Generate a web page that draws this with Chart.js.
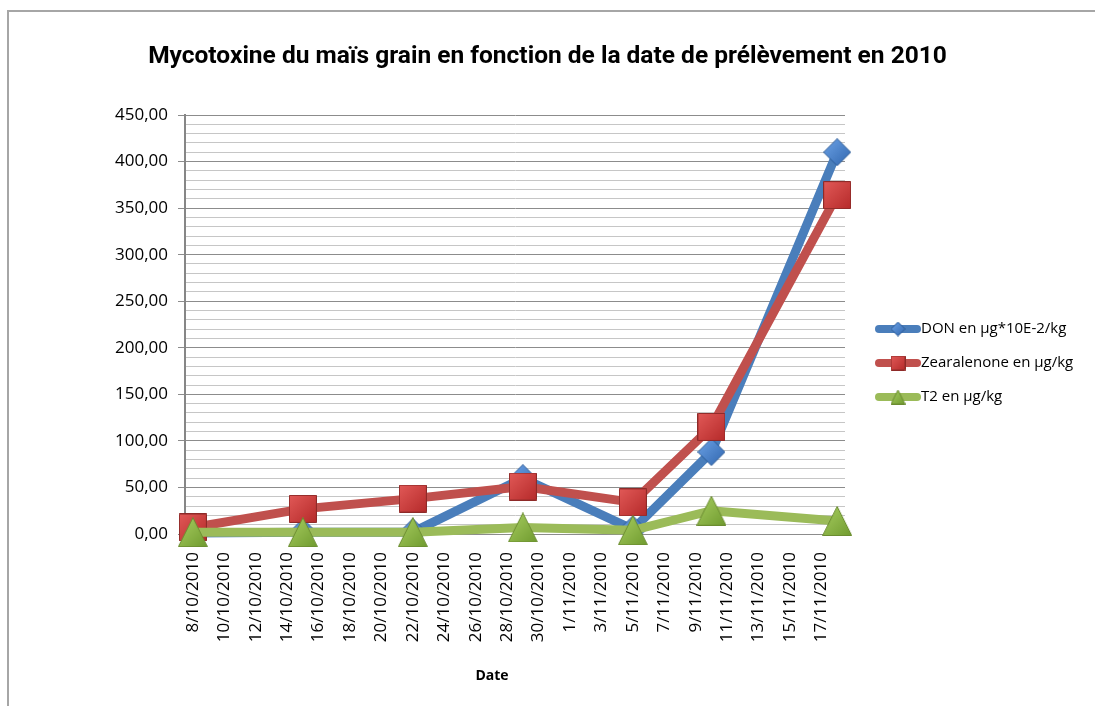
<!DOCTYPE html>
<html>
<head>
<meta charset="utf-8">
<style>
    body {
        margin: 0;
        background: #fff;
    }
    #wrap {
        position: relative;
        width: 1095px;
        height: 706px;
        overflow: hidden;
    }
    #frame {
        position: absolute;
        left: 7px;
        top: 10px;
        width: 1200px;
        height: 800px;
        border: 2px solid #a6a6a6;
    }
    canvas {
        position: absolute;
        left: 0;
        top: 0;
    }
</style>
</head>
<body>
<div id="wrap">
    <div id="frame"></div>
    <canvas id="chart" width="1095" height="706"></canvas>
</div>

<script src="https://cdn.jsdelivr.net/npm/chart.js@4"></script>
<script>
    // sampling dates and measured values
    const dates = ['8/10/2010', '15/10/2010', '22/10/2010', '29/10/2010', '5/11/2010', '10/11/2010', '18/11/2010'];
    const don = [1, 2, 2, 60, 5, 88, 410];
    const zearalenone = [7, 27, 38, 51, 34, 115, 364];
    const t2 = [2, 2, 2, 7, 4, 25, 14];

    const xTickLabels = ['8/10/2010', '10/10/2010', '12/10/2010', '14/10/2010', '16/10/2010', '18/10/2010',
        '20/10/2010', '22/10/2010', '24/10/2010', '26/10/2010', '28/10/2010', '30/10/2010', '1/11/2010',
        '3/11/2010', '5/11/2010', '7/11/2010', '9/11/2010', '11/11/2010', '13/11/2010', '15/11/2010', '17/11/2010'];

    const seriesNames = ['DON en µg*10E-2/kg', 'Zearalenone en µg/kg', 'T2 en µg/kg'];

    // date string -> days since first sample
    const toDay = (s) => {
        const p = s.split('/').map(Number);
        return Math.round((Date.UTC(p[2], p[1] - 1, p[0]) - Date.UTC(2010, 9, 8)) / 86400000);
    };
    const dayToLabel = (d) => {
        const dt = new Date(Date.UTC(2010, 9, 8) + d * 86400000);
        return dt.getUTCDate() + '/' + (dt.getUTCMonth() + 1) + '/' + dt.getUTCFullYear();
    };

    const days = dates.map(toDay);
    const lastDay = days[days.length - 1];
    const pts = (vals) => vals.map((v, i) => ({ x: days[i], y: v }));

    // Excel-like bevelled markers, drawn once into small canvases
    const makeMarker = (shape, size, light, dark, edge) => {
        const cv = document.createElement('canvas');
        cv.width = size;
        cv.height = size;
        const g = cv.getContext('2d');
        const grad = g.createLinearGradient(0, 0, size, size);
        grad.addColorStop(0, light);
        grad.addColorStop(1, dark);
        const m = size / 2;
        g.beginPath();
        if (shape === 'diamond') {
            g.moveTo(m, 0.5); g.lineTo(size - 0.5, m); g.lineTo(m, size - 0.5); g.lineTo(0.5, m);
        } else if (shape === 'square') {
            g.rect(0.5, 0.5, size - 1, size - 1);
        } else {
            g.moveTo(m, 0.5); g.lineTo(size - 0.5, size - 0.5); g.lineTo(0.5, size - 0.5);
        }
        g.closePath();
        g.fillStyle = grad;
        g.fill();
        g.strokeStyle = edge;
        g.lineWidth = 1;
        g.stroke();
        return cv;
    };

    const styles = [
        { line: '#4a7ebb', shape: 'diamond', light: '#6ea4e8', dark: '#2f65ad', edge: '#2b5a96' },
        { line: '#c0504d', shape: 'square', light: '#e25a58', dark: '#b52a2a', edge: '#8e2a28' },
        { line: '#9bbb59', shape: 'triangle', light: '#a9cf62', dark: '#6f9a2e', edge: '#6b8c30' }
    ];
    const markerSizes = [28, 28, 30];
    styles.forEach((st, i) => {
        st.big = makeMarker(st.shape, markerSizes[i], st.light, st.dark, st.edge);
        st.small = makeMarker(st.shape, 15, st.light, st.dark, st.edge);
    });

    const makeDataset = (label, vals, st, order) => ({
        label: label,
        data: pts(vals),
        borderColor: st.line,
        borderWidth: 9,
        pointStyle: st.big,
        pointRadius: 14,
        pointHoverRadius: 14,
        tension: 0,
        clip: false,
        order: order
    });

    // hand-made legend on the right (line sample + marker) and x axis title
    const sideLegend = {
        id: 'sideLegend',
        afterDraw(chart) {
            const ctx = chart.ctx;
            const ys = [329, 363, 397];
            ctx.save();
            styles.forEach((st, i) => {
                const y = ys[i];
                ctx.strokeStyle = st.line;
                ctx.lineWidth = 8;
                ctx.lineCap = 'round';
                ctx.beginPath();
                ctx.moveTo(879, y);
                ctx.lineTo(917, y);
                ctx.stroke();
                ctx.drawImage(st.small, 898 - 7.5, y - 7.5);
                ctx.fillStyle = '#000';
                ctx.font = '15px "Open Sans"';
                ctx.textBaseline = 'middle';
                ctx.textAlign = 'left';
                ctx.fillText(seriesNames[i], 921, y);
            });
            ctx.font = 'bold 14px "Open Sans"';
            ctx.textAlign = 'center';
            ctx.fillText('Date', 492, 676);
            ctx.restore();
        }
    };

    const ctx = document.getElementById('chart').getContext('2d');
    const chart = new Chart(ctx, {
        type: 'line',
        data: {
            datasets: [
                makeDataset(seriesNames[0], don, styles[0], 3),
                makeDataset(seriesNames[1], zearalenone, styles[1], 2),
                makeDataset(seriesNames[2], t2, styles[2], 1)
            ]
        },
        options: {
            responsive: false,
            animation: false,
            plugins: {
                legend: { display: false },
                tooltip: { enabled: false },
                title: {
                    display: true,
                    text: 'Mycotoxine du maïs grain en fonction de la date de prélèvement en 2010',
                    color: '#000',
                    font: { family: 'Roboto', weight: 'bold', size: 24.5 },
                    padding: { top: 42, bottom: 43.6 }
                }
            },
            scales: {
                x: {
                    type: 'linear',
                    min: -0.5,
                    max: lastDay + 0.5,
                    afterBuildTicks: (scale) => {
                        scale.ticks = xTickLabels.map((s) => ({ value: toDay(s) }));
                    },
                    afterFit: (scale) => { scale.height = 172; },
                    grid: { display: false, drawTicks: false },
                    border: { display: false },
                    ticks: {
                        autoSkip: false,
                        maxRotation: 90,
                        minRotation: 90,
                        padding: 18,
                        color: '#000',
                        font: { family: '"Open Sans"', size: 17 },
                        callback: (v) => dayToLabel(v)
                    }
                },
                y: {
                    min: 0,
                    max: 450,
                    afterFit: (scale) => { scale.width = 185; },
                    border: { display: true, color: '#868686', width: 2 },
                    grid: {
                        color: (c) => (c.tick.value % 50 === 0 ? '#8c8c8c' : '#c6c6c6'),
                        tickColor: (c) => (c.tick.value % 50 === 0 ? '#8c8c8c' : 'rgba(0,0,0,0)'),
                        tickLength: 7,
                        lineWidth: 1
                    },
                    ticks: {
                        stepSize: 10,
                        autoSkip: false,
                        padding: 10,
                        color: '#000',
                        font: { family: '"Open Sans"', size: 17 },
                        callback: (v) => (v % 50 === 0 ? v.toFixed(2).replace('.', ',') : '')
                    }
                },
                // empty right-hand box that leaves room for the legend
                legendRoom: {
                    position: 'right',
                    min: 0,
                    max: 1,
                    afterFit: (scale) => { scale.width = 250; },
                    grid: { display: false, drawTicks: false },
                    border: { display: false },
                    ticks: { display: false }
                }
            }
        },
        plugins: [sideLegend]
    });
</script>
</body>
</html>
